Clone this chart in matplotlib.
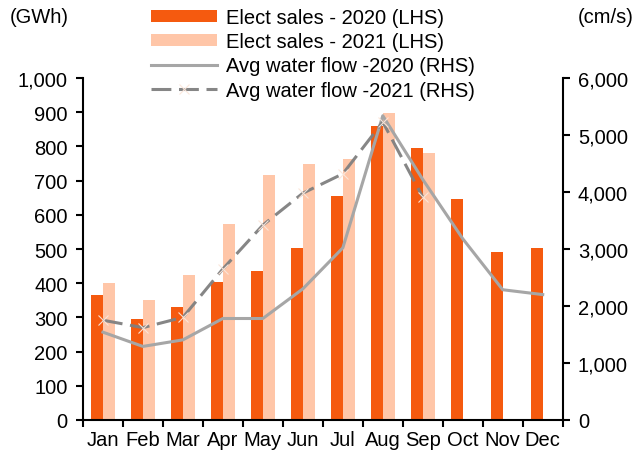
import numpy as np
import matplotlib
matplotlib.use("Agg")
import matplotlib.pyplot as plt

plt.rcParams['font.family'] = ['Liberation Sans', 'DejaVu Sans']

months = ["Jan", "Feb", "Mar", "Apr", "May", "Jun", "Jul", "Aug", "Sep", "Oct", "Nov", "Dec"]
sales_2020 = [366, 296, 330, 403, 435, 503, 656, 861, 795, 645, 492, 504]
sales_2021 = [400, 351, 424, 573, 716, 750, 764, 897, 781]
flow_2020 = [1540, 1290, 1405, 1780, 1780, 2300, 3020, 5340, 4220, 3180, 2285, 2200]
flow_2021 = [1750, 1620, 1800, 2650, 3420, 3980, 4320, 5230, 3910]

fs = 14.5
fig = plt.figure(figsize=(6.38, 4.6), dpi=100)
ax = fig.add_axes([0.130, 0.085, 0.752, 0.743])
ax2 = ax.twinx()

x = np.arange(len(months))
w = 0.3
b1 = ax.bar(x - w/2, sales_2020, w, color="#F55A0F", label="Elect sales - 2020 (LHS)", zorder=2)
b2 = ax.bar(np.arange(len(sales_2021)) + w/2, sales_2021, w, color="#FFC6A8",
            label="Elect sales - 2021 (LHS)", zorder=2)
l1, = ax2.plot(x, flow_2020, color="#A6A6A6", lw=2.2, label="Avg water flow -2020 (RHS)")
l2, = ax2.plot(np.arange(len(flow_2021)), flow_2021, color="#808080", lw=2.2,
               dashes=(6.5, 2.5), marker="x", ms=7, mec="#FBE6DA", mew=0.8, alpha=0.95,
               label="Avg water flow -2021 (RHS)")

ax.set_ylim(0, 1000)
ax.set_yticks(range(0, 1001, 100))
ax.set_yticklabels([f"{v:,}" for v in range(0, 1001, 100)])
ax2.set_ylim(0, 6000)
ax2.set_yticks(range(0, 6001, 1000))
ax2.set_yticklabels([f"{v:,}" for v in range(0, 6001, 1000)])
ax.set_xlim(-0.5, 11.5)
ax.set_xticks(x)
ax.set_xticklabels(months)
ax.set_xticks(np.arange(-0.5, 12, 1), minor=True)
ax.tick_params(axis="x", which="major", length=0, labelsize=fs, pad=7)
ax.tick_params(axis="x", which="minor", length=5, width=1.5, direction="out")
ax.tick_params(axis="y", length=5, width=1.5, labelsize=fs, pad=6)
ax2.tick_params(axis="y", length=5, width=1.5, labelsize=fs, pad=6)

for a in (ax, ax2):
    a.spines["top"].set_visible(False)
    for s in ("left", "right", "bottom"):
        a.spines[s].set_linewidth(1.5)
ax.spines["right"].set_visible(False)
ax2.spines["left"].set_visible(False)
ax2.spines["bottom"].set_visible(False)

fig.text(0.015, 0.962, "(GWh)", fontsize=fs, va="center")
fig.text(0.993, 0.962, "(cm/s)", fontsize=fs, va="center", ha="right")

fig.legend(handles=[b1, b2, l1, l2], loc="upper left", bbox_to_anchor=(151/638, 1 - 9/460),
           frameon=False, fontsize=fs, handlelength=3.3, handleheight=0.55,
           labelspacing=0.26, handletextpad=0.4, borderaxespad=0, borderpad=0)

fig.savefig("out.png", dpi=100)
